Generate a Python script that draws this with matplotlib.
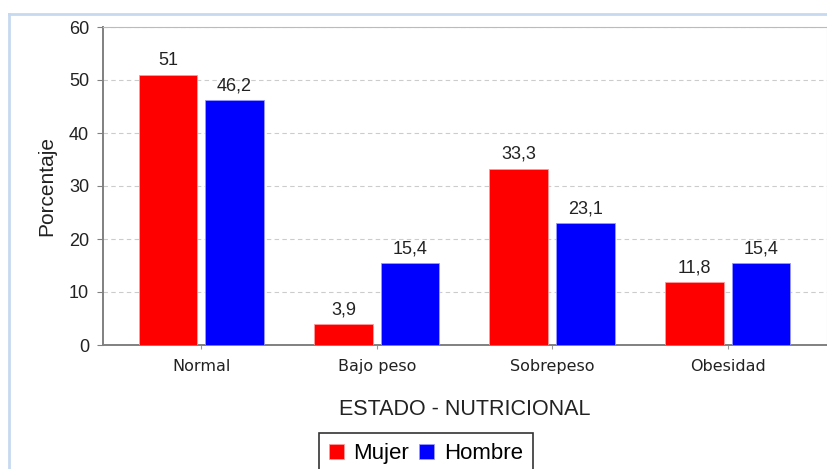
import matplotlib.pyplot as plt
import numpy as np
from matplotlib.lines import Line2D

categorias = ["Normal", "Bajo peso", "Sobrepeso", "Obesidad"]
mujer = [51, 3.9, 33.3, 11.8]
hombre = [46.2, 15.4, 23.1, 15.4]
series = ["Mujer", "Hombre"]
yticks = [0, 10, 20, 30, 40, 50, 60]

plt.rcParams["font.family"] = ["Liberation Sans", "DejaVu Sans"]

fig = plt.figure(figsize=(8.28, 4.69), dpi=100)
ax = fig.add_axes([103 / 828, 1 - 345 / 469, 724 / 828, 318 / 469])

# marco azul claro
fig.add_artist(Line2D([9 / 828, 1], [1 - 14 / 469] * 2, color="#c6d9f1", lw=2))
fig.add_artist(Line2D([9 / 828] * 2, [0, 1 - 14 / 469], color="#c6d9f1", lw=2))

x = np.arange(len(categorias))
w = 0.335
off = 0.19
b1 = ax.bar(x - off, mujer, w, color="#ff0000", edgecolor="#ff9999", linewidth=0.6, label=series[0], zorder=3)
b2 = ax.bar(x + off, hombre, w, color="#0000ff", edgecolor="#9999ff", linewidth=0.6, label=series[1], zorder=3)


def fmt(v):
    return f"{v:g}".replace(".", ",")


for bars, vals in [(b1, mujer), (b2, hombre)]:
    for r, v in zip(bars, vals):
        ax.annotate(fmt(v), (r.get_x() + r.get_width() / 2, v), xytext=(0, 4),
                    textcoords="offset points", ha="center", va="bottom",
                    fontsize=13, color="#222222")

ax.set_xlim(-0.56, 3.566)
ax.set_ylim(0, 60)
ax.set_yticks(yticks)
ax.set_xticks(x)
ax.set_xticklabels(categorias, fontsize=11.5, family="DejaVu Sans", color="#222222")
ax.tick_params(axis="y", labelsize=13, length=4, color="#808080", labelcolor="#222222", pad=6)
ax.tick_params(axis="x", length=3, color="#999999", pad=7)
ax.grid(axis="y", color="#cccccc", linestyle=(0, (4, 3)), linewidth=0.8, zorder=0)

for s in ["left", "bottom"]:
    ax.spines[s].set_color("#808080")
    ax.spines[s].set_linewidth(1.4)
ax.spines["top"].set_color("#bbbbbb")
ax.spines["top"].set_linestyle((0, (4, 1)))
ax.spines["right"].set_color("#cccccc")

ax.set_ylabel("Porcentaje", fontsize=15, color="#222222", labelpad=9)
ax.set_xlabel("ESTADO - NUTRICIONAL", fontsize=15.5, color="#222222", labelpad=18)

leg = fig.legend(loc="upper center", bbox_to_anchor=(426 / 828, 1 - 433 / 469), ncol=2,
                 fontsize=16, frameon=True, fancybox=False, edgecolor="black",
                 handlelength=0.68, handleheight=0.68, handletextpad=0.45, columnspacing=0.45,
                 borderpad=0.45, borderaxespad=0)
leg.get_frame().set_linewidth(1.2)

fig.savefig("out.png", dpi=100)
